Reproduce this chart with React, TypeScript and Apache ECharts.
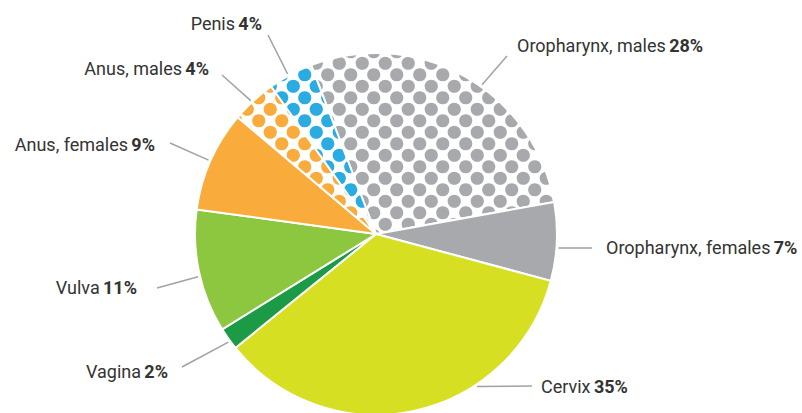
import React, { useEffect, useRef } from "react";
import * as echarts from "echarts";

const categories = [
  "Oropharynx, males",
  "Oropharynx, females",
  "Cervix",
  "Vagina",
  "Vulva",
  "Anus, females",
  "Anus, males",
  "Penis",
];
const values = [28, 7, 35, 2, 11, 9, 4, 4];

// style per slice: solid colour or dotted pattern
const sliceStyles = [
  { color: "#a7a9ac", dotted: true },
  { color: "#a7a9ac", dotted: false },
  { color: "#d7df23", dotted: false },
  { color: "#1c9b47", dotted: false },
  { color: "#8dc63f", dotted: false },
  { color: "#f9ab3c", dotted: false },
  { color: "#f9ab3c", dotted: true },
  { color: "#2aace2", dotted: true },
];

const CX = 376;
const CY = 234;
const R = 181;

// label layout: angle of leader start on rim, leader end, text anchor
const labelLayouts = [
  { angle: 54.6, end: [507, 56], text: [517, 45], align: "left" },
  { angle: -4.4, end: [592, 248], text: [606, 247], align: "left" },
  { angle: -56.5, end: [532, 386], text: [541, 386], align: "left" },
  { angle: 216.2, end: [182, 367], text: [168, 371], align: "right" },
  { angle: 193.5, end: [157, 288], text: [137, 287], align: "right" },
  { angle: 156.2, end: [170, 143], text: [155, 144], align: "right" },
  { angle: 133.2, end: [222, 75], text: [209, 68], align: "right" },
  { angle: 118.9, end: [268, 35], text: [262, 23], align: "right" },
];

function dotPattern(color: string) {
  const s = 23;
  const c = document.createElement("canvas");
  c.width = s;
  c.height = s;
  const ctx = c.getContext("2d")!;
  ctx.fillStyle = "#ffffff";
  ctx.fillRect(0, 0, s, s);
  ctx.fillStyle = color;
  const r = 6.6;
  const pts = [
    [s / 4, s / 4],
    [(3 * s) / 4, (3 * s) / 4],
  ];
  for (const [px, py] of pts) {
    for (const ox of [-s, 0, s]) {
      for (const oy of [-s, 0, s]) {
        ctx.beginPath();
        ctx.arc(px + ox, py + oy, r, 0, Math.PI * 2);
        ctx.fill();
      }
    }
  }
  return { image: c, repeat: "repeat", imageWidth: s, imageHeight: s } as any;
}

export default function App() {
  const ref = useRef<HTMLDivElement>(null);
  useEffect(() => {
    if (!ref.current) return;
    const chart = echarts.init(ref.current, undefined, { renderer: "svg" });
    const data = categories.map((name, i) => ({
      name,
      value: values[i],
      itemStyle: {
        color: sliceStyles[i].dotted
          ? dotPattern(sliceStyles[i].color)
          : sliceStyles[i].color,
      },
    }));
    chart.setOption({
      animation: false,
      backgroundColor: "#ffffff",
      series: [
        {
          type: "pie",
          center: [CX, CY],
          radius: R,
          startAngle: 111,
          clockwise: true,
          avoidLabelOverlap: false,
          silent: true,
          data,
          itemStyle: { borderColor: "#ffffff", borderWidth: 2 },
          label: {
            show: true,
            position: "outside",
            formatter: (p: any) => `{n|${p.name}} {b|${p.value}%}`,
            rich: {
              n: {
                fontFamily: "Roboto",
                fontSize: 18,
                color: "#333333",
                fontWeight: "normal",
              },
              b: {
                fontFamily: "Roboto",
                fontSize: 18,
                color: "#333333",
                fontWeight: "bold",
              },
            },
          },
          labelLine: {
            show: true,
            length: 10,
            length2: 0,
            lineStyle: { color: "#a0a2a5", width: 1.5 },
          },
          labelLayout: (params: any) => {
            const l = labelLayouts[params.dataIndex];
            const a = (l.angle * Math.PI) / 180;
            const sx = CX + (R + 2) * Math.cos(a);
            const sy = CY - (R + 2) * Math.sin(a);
            return {
              x: l.text[0],
              y: l.text[1],
              align: l.align,
              verticalAlign: "middle",
              labelLinePoints: [
                [sx, sy],
                [l.end[0], l.end[1]],
              ],
            };
          },
        },
      ],
    });
    return () => chart.dispose();
  }, []);
  return (
    <div
      ref={ref}
      style={{ position: "fixed", left: 0, top: 0, width: 802, height: 413 }}
    />
  );
}
